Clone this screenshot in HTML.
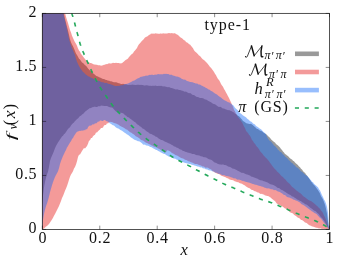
<!DOCTYPE html>
<html><head><meta charset="utf-8"><title>type-1</title>
<style>
html,body{margin:0;padding:0;background:#fff;}
body{width:346px;height:260px;position:relative;overflow:hidden;font-family:"Liberation Serif",serif;color:#111;}
</style></head><body>
<svg width="346" height="260" viewBox="0 0 346 260" style="position:absolute;left:0;top:0;will-change:transform" font-family="Liberation Serif" fill="#111">
<defs><clipPath id="c"><rect x="42.35" y="13.4" width="287.15" height="216.05"/></clipPath></defs>
<g clip-path="url(#c)">
<path d="M42.0,-5.0 L43.0,-5.0 L44.0,-5.0 L45.0,-5.0 L46.0,-5.0 L47.0,-5.0 L48.0,-5.0 L49.0,-5.0 L50.0,-5.0 L51.0,-5.0 L52.0,-5.0 L53.0,-5.0 L54.0,-5.0 L55.0,-5.0 L56.0,-5.0 L57.0,-5.0 L58.0,-5.0 L59.0,-5.0 L60.0,-5.0 L61.0,-4.5 L62.0,1.2 L63.0,8.1 L64.0,14.1 L65.0,18.8 L66.0,22.8 L67.0,26.8 L68.0,30.6 L69.0,34.8 L70.0,39.3 L71.0,42.3 L72.0,44.6 L73.0,46.3 L74.0,48.4 L75.0,50.9 L76.0,53.5 L77.0,54.9 L78.0,56.8 L79.0,58.7 L80.0,59.4 L81.0,61.0 L82.0,62.4 L83.0,62.9 L84.0,64.1 L85.0,65.3 L86.0,65.7 L87.0,67.1 L88.0,68.4 L89.0,69.6 L90.0,70.5 L91.0,71.3 L92.0,72.4 L93.0,73.2 L94.0,74.1 L95.0,74.8 L96.0,75.8 L97.0,76.3 L98.0,76.5 L99.0,77.2 L100.0,77.5 L101.0,78.0 L102.0,78.4 L103.0,79.0 L104.0,79.1 L105.0,79.5 L106.0,80.0 L107.0,80.1 L108.0,80.8 L109.0,80.6 L110.0,81.3 L111.0,81.3 L112.0,81.6 L113.0,82.0 L114.0,82.2 L115.0,82.3 L116.0,82.3 L117.0,82.5 L118.0,83.1 L119.0,83.2 L120.0,83.5 L121.0,83.9 L122.0,83.9 L123.0,83.7 L124.0,84.0 L125.0,84.4 L126.0,84.2 L127.0,84.8 L128.0,84.9 L129.0,84.9 L130.0,84.7 L131.0,85.0 L132.0,84.5 L133.0,84.7 L134.0,84.8 L135.0,85.0 L136.0,84.9 L137.0,84.7 L138.0,84.8 L139.0,84.8 L140.0,84.9 L141.0,84.8 L142.0,85.0 L143.0,85.1 L144.0,85.4 L145.0,85.5 L146.0,85.3 L147.0,85.3 L148.0,85.6 L149.0,85.7 L150.0,85.7 L151.0,85.8 L152.0,85.9 L153.0,85.4 L154.0,86.0 L155.0,85.6 L156.0,85.8 L157.0,86.1 L158.0,86.1 L159.0,85.7 L160.0,86.1 L161.0,85.8 L162.0,86.0 L163.0,86.4 L164.0,86.2 L165.0,86.5 L166.0,86.8 L167.0,87.0 L168.0,87.2 L169.0,87.0 L170.0,87.5 L171.0,87.9 L172.0,87.9 L173.0,88.5 L174.0,88.8 L175.0,89.3 L176.0,89.6 L177.0,89.3 L178.0,89.6 L179.0,90.1 L180.0,90.0 L181.0,90.3 L182.0,90.8 L183.0,90.8 L184.0,91.5 L185.0,91.8 L186.0,91.6 L187.0,92.2 L188.0,92.8 L189.0,93.3 L190.0,93.1 L191.0,93.5 L192.0,94.5 L193.0,95.0 L194.0,95.1 L195.0,95.8 L196.0,96.5 L197.0,97.0 L198.0,96.9 L199.0,97.6 L200.0,98.0 L201.0,98.1 L202.0,98.1 L203.0,98.3 L204.0,98.8 L205.0,99.6 L206.0,99.6 L207.0,100.1 L208.0,100.8 L209.0,101.2 L210.0,101.7 L211.0,102.2 L212.0,103.0 L213.0,103.7 L214.0,104.0 L215.0,104.3 L216.0,105.0 L217.0,105.7 L218.0,106.4 L219.0,106.9 L220.0,106.8 L221.0,107.0 L222.0,108.0 L223.0,108.4 L224.0,108.5 L225.0,109.1 L226.0,109.6 L227.0,109.8 L228.0,110.3 L229.0,110.0 L230.0,110.5 L231.0,110.9 L232.0,111.2 L233.0,112.2 L234.0,112.3 L235.0,113.7 L236.0,114.1 L237.0,115.0 L238.0,115.7 L239.0,116.2 L240.0,117.3 L241.0,118.5 L242.0,119.6 L243.0,121.1 L244.0,121.5 L245.0,122.2 L246.0,122.9 L247.0,123.4 L248.0,123.5 L249.0,124.0 L250.0,124.0 L251.0,123.8 L252.0,124.6 L253.0,125.3 L254.0,126.3 L255.0,127.1 L256.0,127.9 L257.0,128.9 L258.0,129.1 L259.0,129.9 L260.0,130.4 L261.0,131.1 L262.0,131.2 L263.0,132.3 L264.0,133.0 L265.0,133.4 L266.0,134.0 L267.0,135.1 L268.0,136.1 L269.0,137.1 L270.0,137.7 L271.0,139.3 L272.0,140.3 L273.0,141.0 L274.0,142.0 L275.0,142.4 L276.0,143.9 L277.0,144.7 L278.0,145.5 L279.0,146.6 L280.0,147.4 L281.0,148.9 L282.0,150.1 L283.0,151.6 L284.0,152.4 L285.0,154.0 L286.0,154.6 L287.0,155.4 L288.0,156.0 L289.0,157.2 L290.0,158.2 L291.0,158.9 L292.0,159.5 L293.0,160.8 L294.0,161.2 L295.0,162.6 L296.0,163.4 L297.0,164.2 L298.0,165.3 L299.0,166.4 L300.0,167.2 L301.0,168.8 L302.0,169.6 L303.0,171.0 L304.0,172.2 L305.0,172.8 L306.0,174.4 L307.0,175.4 L308.0,177.0 L309.0,178.3 L310.0,179.8 L311.0,181.6 L312.0,182.5 L313.0,184.1 L314.0,185.1 L315.0,186.0 L316.0,187.6 L317.0,188.7 L318.0,190.3 L319.0,191.7 L320.0,193.6 L321.0,196.3 L322.0,197.7 L323.0,199.5 L324.0,202.1 L325.0,204.8 L326.0,208.7 L327.0,213.8 L328.0,221.6 L329.0,229.5 L329.0,229.5 L328.0,227.8 L327.0,225.9 L326.0,223.9 L325.0,222.2 L324.0,220.8 L323.0,219.5 L322.0,218.1 L321.0,217.2 L320.0,216.1 L319.0,214.4 L318.0,213.6 L317.0,212.8 L316.0,211.5 L315.0,210.9 L314.0,210.4 L313.0,209.7 L312.0,208.7 L311.0,208.2 L310.0,207.5 L309.0,206.4 L308.0,205.7 L307.0,204.8 L306.0,204.5 L305.0,203.9 L304.0,203.2 L303.0,202.4 L302.0,202.3 L301.0,201.1 L300.0,201.1 L299.0,200.2 L298.0,199.7 L297.0,199.4 L296.0,198.4 L295.0,198.0 L294.0,197.3 L293.0,196.5 L292.0,196.5 L291.0,195.6 L290.0,194.7 L289.0,194.6 L288.0,193.7 L287.0,193.3 L286.0,192.6 L285.0,191.7 L284.0,191.2 L283.0,190.6 L282.0,190.1 L281.0,189.8 L280.0,188.7 L279.0,188.1 L278.0,188.0 L277.0,187.5 L276.0,186.4 L275.0,185.9 L274.0,185.3 L273.0,184.9 L272.0,184.4 L271.0,184.4 L270.0,183.9 L269.0,183.6 L268.0,182.8 L267.0,182.3 L266.0,182.1 L265.0,181.5 L264.0,181.3 L263.0,181.0 L262.0,180.3 L261.0,180.4 L260.0,180.0 L259.0,179.7 L258.0,179.0 L257.0,178.5 L256.0,178.2 L255.0,177.8 L254.0,177.5 L253.0,176.9 L252.0,176.7 L251.0,176.5 L250.0,175.6 L249.0,175.3 L248.0,174.8 L247.0,174.5 L246.0,174.3 L245.0,173.8 L244.0,173.2 L243.0,172.8 L242.0,172.9 L241.0,172.5 L240.0,171.9 L239.0,171.2 L238.0,170.9 L237.0,170.2 L236.0,169.8 L235.0,169.2 L234.0,168.7 L233.0,168.7 L232.0,168.3 L231.0,167.5 L230.0,167.0 L229.0,166.7 L228.0,166.5 L227.0,165.8 L226.0,165.3 L225.0,165.0 L224.0,165.1 L223.0,164.3 L222.0,164.8 L221.0,164.6 L220.0,164.5 L219.0,164.3 L218.0,164.1 L217.0,163.6 L216.0,162.8 L215.0,162.7 L214.0,161.9 L213.0,161.2 L212.0,160.3 L211.0,159.7 L210.0,159.6 L209.0,159.2 L208.0,158.7 L207.0,158.1 L206.0,157.6 L205.0,157.2 L204.0,157.3 L203.0,157.0 L202.0,156.2 L201.0,156.5 L200.0,155.8 L199.0,155.5 L198.0,155.3 L197.0,155.3 L196.0,155.0 L195.0,154.4 L194.0,154.0 L193.0,153.9 L192.0,153.9 L191.0,153.2 L190.0,153.2 L189.0,152.7 L188.0,152.7 L187.0,152.2 L186.0,151.9 L185.0,151.8 L184.0,150.9 L183.0,150.9 L182.0,150.3 L181.0,149.6 L180.0,149.5 L179.0,148.7 L178.0,148.0 L177.0,147.8 L176.0,147.2 L175.0,146.4 L174.0,146.5 L173.0,145.6 L172.0,145.0 L171.0,144.6 L170.0,143.8 L169.0,143.5 L168.0,143.1 L167.0,142.6 L166.0,142.1 L165.0,141.7 L164.0,140.9 L163.0,140.5 L162.0,140.0 L161.0,140.0 L160.0,139.3 L159.0,138.8 L158.0,138.1 L157.0,137.1 L156.0,136.7 L155.0,136.3 L154.0,135.3 L153.0,135.2 L152.0,134.2 L151.0,134.1 L150.0,133.7 L149.0,132.9 L148.0,132.0 L147.0,131.8 L146.0,130.7 L145.0,130.1 L144.0,129.1 L143.0,128.8 L142.0,128.0 L141.0,126.8 L140.0,126.5 L139.0,125.6 L138.0,124.7 L137.0,124.3 L136.0,123.0 L135.0,122.1 L134.0,121.7 L133.0,120.4 L132.0,120.3 L131.0,119.0 L130.0,118.8 L129.0,117.6 L128.0,117.2 L127.0,116.8 L126.0,115.6 L125.0,115.3 L124.0,114.0 L123.0,113.2 L122.0,113.0 L121.0,112.7 L120.0,113.0 L119.0,112.7 L118.0,112.8 L117.0,112.0 L116.0,111.6 L115.0,110.4 L114.0,109.4 L113.0,108.3 L112.0,107.4 L111.0,107.4 L110.0,107.2 L109.0,106.9 L108.0,106.6 L107.0,106.0 L106.0,106.0 L105.0,106.0 L104.0,106.0 L103.0,105.7 L102.0,105.7 L101.0,105.6 L100.0,106.4 L99.0,105.9 L98.0,106.4 L97.0,106.9 L96.0,107.0 L95.0,106.7 L94.0,106.8 L93.0,107.3 L92.0,107.2 L91.0,108.2 L90.0,108.1 L89.0,108.8 L88.0,109.6 L87.0,110.2 L86.0,111.0 L85.0,111.7 L84.0,112.9 L83.0,113.9 L82.0,114.5 L81.0,115.7 L80.0,116.0 L79.0,117.3 L78.0,118.5 L77.0,118.9 L76.0,120.3 L75.0,120.9 L74.0,122.5 L73.0,123.2 L72.0,124.2 L71.0,125.6 L70.0,127.2 L69.0,128.0 L68.0,129.1 L67.0,130.6 L66.0,132.1 L65.0,133.4 L64.0,134.2 L63.0,135.8 L62.0,136.6 L61.0,137.9 L60.0,139.4 L59.0,140.9 L58.0,142.5 L57.0,144.2 L56.0,146.1 L55.0,148.3 L54.0,150.9 L53.0,153.5 L52.0,155.8 L51.0,158.0 L50.0,160.9 L49.0,166.9 L48.0,171.8 L47.0,174.6 L46.0,177.7 L45.0,181.9 L44.0,187.6 L43.0,195.5 L42.0,205.0Z" fill="#000" fill-opacity="0.40"/>
<path d="M42.0,-5.0 L43.0,-5.0 L44.0,-5.0 L45.0,-5.0 L46.0,-5.0 L47.0,-5.0 L48.0,-5.0 L49.0,-5.0 L50.0,-5.0 L51.0,-5.0 L52.0,-5.0 L53.0,-5.0 L54.0,-5.0 L55.0,-5.0 L56.0,-5.0 L57.0,-5.0 L58.0,-5.0 L59.0,-5.0 L60.0,-5.0 L61.0,-4.7 L62.0,-4.3 L63.0,0.6 L64.0,7.1 L65.0,12.8 L66.0,16.8 L67.0,20.0 L68.0,23.1 L69.0,26.5 L70.0,29.9 L71.0,32.6 L72.0,35.8 L73.0,38.1 L74.0,40.2 L75.0,42.3 L76.0,43.7 L77.0,45.8 L78.0,48.4 L79.0,50.4 L80.0,51.7 L81.0,53.9 L82.0,55.0 L83.0,56.5 L84.0,57.8 L85.0,59.1 L86.0,60.2 L87.0,61.3 L88.0,61.8 L89.0,62.2 L90.0,62.9 L91.0,63.1 L92.0,63.5 L93.0,64.0 L94.0,64.4 L95.0,64.4 L96.0,64.7 L97.0,64.7 L98.0,65.3 L99.0,65.3 L100.0,65.3 L101.0,65.7 L102.0,65.4 L103.0,65.2 L104.0,64.7 L105.0,64.8 L106.0,64.1 L107.0,64.3 L108.0,63.7 L109.0,63.3 L110.0,63.5 L111.0,63.4 L112.0,63.3 L113.0,62.7 L114.0,63.0 L115.0,63.1 L116.0,62.7 L117.0,62.9 L118.0,63.1 L119.0,62.9 L120.0,63.4 L121.0,63.3 L122.0,63.2 L123.0,62.3 L124.0,61.5 L125.0,60.5 L126.0,59.8 L127.0,59.2 L128.0,58.5 L129.0,57.0 L130.0,55.9 L131.0,54.8 L132.0,54.0 L133.0,53.2 L134.0,51.6 L135.0,50.6 L136.0,49.2 L137.0,47.9 L138.0,45.8 L139.0,44.3 L140.0,43.3 L141.0,41.9 L142.0,40.7 L143.0,39.9 L144.0,38.8 L145.0,37.5 L146.0,37.1 L147.0,36.5 L148.0,35.9 L149.0,34.7 L150.0,34.7 L151.0,33.6 L152.0,33.7 L153.0,33.6 L154.0,33.8 L155.0,33.6 L156.0,33.3 L157.0,33.7 L158.0,33.5 L159.0,33.9 L160.0,33.4 L161.0,33.6 L162.0,33.8 L163.0,33.3 L164.0,33.6 L165.0,33.5 L166.0,33.5 L167.0,33.6 L168.0,33.2 L169.0,33.1 L170.0,33.2 L171.0,33.3 L172.0,33.1 L173.0,33.6 L174.0,33.2 L175.0,33.2 L176.0,33.9 L177.0,34.4 L178.0,34.9 L179.0,36.0 L180.0,37.1 L181.0,37.8 L182.0,38.3 L183.0,39.2 L184.0,40.3 L185.0,40.5 L186.0,42.0 L187.0,42.5 L188.0,43.1 L189.0,44.3 L190.0,44.6 L191.0,45.7 L192.0,47.0 L193.0,48.2 L194.0,50.3 L195.0,51.4 L196.0,52.2 L197.0,53.2 L198.0,54.2 L199.0,55.5 L200.0,56.1 L201.0,57.3 L202.0,58.5 L203.0,59.6 L204.0,60.0 L205.0,61.1 L206.0,62.1 L207.0,63.1 L208.0,64.2 L209.0,65.4 L210.0,66.9 L211.0,67.8 L212.0,69.2 L213.0,70.6 L214.0,72.0 L215.0,73.8 L216.0,75.3 L217.0,77.3 L218.0,78.9 L219.0,80.1 L220.0,81.8 L221.0,83.9 L222.0,85.4 L223.0,86.7 L224.0,88.9 L225.0,90.4 L226.0,92.5 L227.0,94.3 L228.0,96.2 L229.0,98.0 L230.0,100.2 L231.0,102.2 L232.0,104.7 L233.0,106.8 L234.0,109.7 L235.0,111.3 L236.0,113.4 L237.0,115.2 L238.0,117.0 L239.0,118.3 L240.0,119.5 L241.0,121.1 L242.0,122.3 L243.0,124.2 L244.0,126.4 L245.0,128.1 L246.0,130.7 L247.0,131.9 L248.0,133.0 L249.0,134.7 L250.0,135.8 L251.0,137.7 L252.0,139.9 L253.0,141.0 L254.0,142.9 L255.0,143.8 L256.0,145.4 L257.0,146.8 L258.0,147.8 L259.0,149.3 L260.0,150.9 L261.0,152.3 L262.0,153.3 L263.0,154.6 L264.0,156.1 L265.0,156.7 L266.0,158.0 L267.0,158.7 L268.0,160.0 L269.0,161.3 L270.0,162.7 L271.0,164.1 L272.0,165.5 L273.0,166.7 L274.0,168.0 L275.0,169.2 L276.0,170.0 L277.0,171.4 L278.0,172.3 L279.0,173.2 L280.0,174.2 L281.0,175.6 L282.0,176.5 L283.0,177.1 L284.0,178.5 L285.0,179.1 L286.0,180.3 L287.0,181.5 L288.0,182.6 L289.0,183.3 L290.0,184.2 L291.0,185.5 L292.0,186.7 L293.0,187.6 L294.0,188.2 L295.0,189.2 L296.0,190.1 L297.0,190.9 L298.0,191.5 L299.0,192.5 L300.0,192.9 L301.0,193.8 L302.0,194.7 L303.0,195.9 L304.0,196.8 L305.0,197.3 L306.0,198.3 L307.0,198.7 L308.0,199.7 L309.0,200.2 L310.0,200.7 L311.0,200.9 L312.0,201.8 L313.0,202.5 L314.0,203.3 L315.0,204.3 L316.0,205.0 L317.0,206.1 L318.0,206.8 L319.0,208.0 L320.0,208.8 L321.0,210.4 L322.0,211.5 L323.0,213.1 L324.0,215.6 L325.0,217.3 L326.0,219.7 L327.0,222.7 L328.0,226.1 L329.0,229.5 L329.0,229.3 L328.0,229.3 L327.0,229.2 L326.0,229.2 L325.0,229.1 L324.0,228.9 L323.0,228.7 L322.0,229.0 L321.0,228.6 L320.0,228.3 L319.0,228.6 L318.0,227.9 L317.0,227.7 L316.0,227.7 L315.0,227.2 L314.0,227.0 L313.0,226.4 L312.0,226.6 L311.0,225.8 L310.0,225.6 L309.0,225.0 L308.0,224.3 L307.0,223.3 L306.0,222.7 L305.0,222.5 L304.0,221.5 L303.0,220.8 L302.0,220.1 L301.0,219.9 L300.0,218.8 L299.0,218.0 L298.0,217.8 L297.0,216.9 L296.0,215.9 L295.0,215.4 L294.0,214.7 L293.0,213.6 L292.0,213.1 L291.0,212.8 L290.0,212.2 L289.0,211.2 L288.0,210.3 L287.0,209.4 L286.0,208.7 L285.0,208.5 L284.0,207.8 L283.0,206.7 L282.0,206.3 L281.0,206.0 L280.0,205.1 L279.0,205.0 L278.0,204.1 L277.0,203.8 L276.0,202.5 L275.0,201.1 L274.0,200.4 L273.0,199.4 L272.0,198.9 L271.0,197.8 L270.0,197.3 L269.0,196.5 L268.0,196.0 L267.0,196.0 L266.0,195.6 L265.0,195.5 L264.0,194.5 L263.0,194.6 L262.0,193.8 L261.0,193.9 L260.0,193.7 L259.0,192.8 L258.0,192.4 L257.0,192.2 L256.0,191.4 L255.0,191.3 L254.0,191.0 L253.0,190.0 L252.0,190.1 L251.0,189.5 L250.0,188.6 L249.0,188.0 L248.0,187.8 L247.0,187.0 L246.0,186.6 L245.0,185.5 L244.0,184.9 L243.0,184.4 L242.0,183.8 L241.0,183.6 L240.0,183.3 L239.0,182.8 L238.0,182.1 L237.0,182.2 L236.0,181.6 L235.0,181.5 L234.0,180.8 L233.0,180.3 L232.0,180.1 L231.0,179.9 L230.0,179.6 L229.0,179.2 L228.0,178.3 L227.0,178.3 L226.0,177.5 L225.0,176.9 L224.0,176.8 L223.0,176.2 L222.0,176.0 L221.0,175.6 L220.0,174.7 L219.0,174.1 L218.0,173.9 L217.0,173.5 L216.0,172.9 L215.0,172.5 L214.0,172.1 L213.0,171.2 L212.0,170.6 L211.0,169.3 L210.0,169.0 L209.0,168.4 L208.0,167.8 L207.0,167.6 L206.0,167.7 L205.0,167.4 L204.0,166.6 L203.0,166.4 L202.0,166.3 L201.0,165.5 L200.0,165.3 L199.0,164.9 L198.0,164.6 L197.0,164.1 L196.0,163.9 L195.0,163.9 L194.0,163.5 L193.0,162.9 L192.0,162.5 L191.0,162.3 L190.0,161.7 L189.0,161.3 L188.0,161.2 L187.0,160.3 L186.0,160.0 L185.0,159.8 L184.0,159.0 L183.0,158.4 L182.0,158.3 L181.0,157.9 L180.0,157.3 L179.0,156.8 L178.0,156.1 L177.0,155.5 L176.0,155.2 L175.0,154.8 L174.0,153.9 L173.0,153.5 L172.0,152.9 L171.0,152.3 L170.0,151.2 L169.0,150.9 L168.0,150.3 L167.0,150.6 L166.0,152.3 L165.0,152.4 L164.0,151.9 L163.0,150.9 L162.0,150.7 L161.0,149.9 L160.0,149.5 L159.0,148.7 L158.0,148.6 L157.0,147.8 L156.0,147.3 L155.0,146.8 L154.0,146.7 L153.0,145.9 L152.0,145.5 L151.0,145.3 L150.0,144.2 L149.0,144.2 L148.0,143.5 L147.0,142.9 L146.0,142.7 L145.0,142.0 L144.0,141.2 L143.0,140.6 L142.0,140.2 L141.0,139.9 L140.0,138.9 L139.0,137.9 L138.0,137.5 L137.0,136.7 L136.0,136.5 L135.0,135.5 L134.0,134.5 L133.0,134.1 L132.0,133.3 L131.0,132.5 L130.0,132.2 L129.0,131.3 L128.0,130.4 L127.0,129.6 L126.0,129.4 L125.0,128.6 L124.0,127.9 L123.0,127.3 L122.0,126.9 L121.0,126.3 L120.0,126.0 L119.0,125.0 L118.0,124.5 L117.0,123.9 L116.0,123.4 L115.0,123.2 L114.0,123.1 L113.0,122.5 L112.0,121.9 L111.0,122.0 L110.0,121.8 L109.0,122.2 L108.0,123.4 L107.0,123.2 L106.0,125.1 L105.0,125.0 L104.0,125.4 L103.0,127.4 L102.0,128.0 L101.0,128.1 L100.0,129.5 L99.0,130.2 L98.0,131.3 L97.0,132.5 L96.0,132.6 L95.0,134.7 L94.0,135.3 L93.0,136.3 L92.0,138.1 L91.0,138.1 L90.0,140.3 L89.0,140.8 L88.0,143.7 L87.0,146.1 L86.0,147.2 L85.0,148.6 L84.0,148.0 L83.0,149.6 L82.0,150.9 L81.0,152.7 L80.0,154.4 L79.0,154.8 L78.0,157.1 L77.0,161.3 L76.0,164.4 L75.0,167.0 L74.0,168.6 L73.0,171.3 L72.0,173.0 L71.0,174.6 L70.0,176.7 L69.0,179.7 L68.0,183.0 L67.0,186.0 L66.0,188.5 L65.0,190.7 L64.0,193.4 L63.0,195.9 L62.0,198.1 L61.0,200.9 L60.0,203.5 L59.0,205.9 L58.0,208.1 L57.0,210.1 L56.0,212.0 L55.0,213.9 L54.0,215.8 L53.0,217.8 L52.0,219.6 L51.0,221.1 L50.0,222.6 L49.0,223.9 L48.0,225.0 L47.0,225.9 L46.0,226.6 L45.0,227.4 L44.0,228.4 L43.0,229.0 L42.0,229.0Z" fill="#e50f0c" fill-opacity="0.42"/>
<path d="M42.0,-5.0 L43.0,-5.0 L44.0,-5.0 L45.0,-5.0 L46.0,-5.0 L47.0,-5.0 L48.0,-5.0 L49.0,-5.0 L50.0,-5.0 L51.0,-5.0 L52.0,-5.0 L53.0,-5.0 L54.0,-5.0 L55.0,-5.0 L56.0,-5.0 L57.0,-5.0 L58.0,-5.0 L59.0,-5.0 L60.0,-5.0 L61.0,-2.0 L62.0,4.2 L63.0,11.0 L64.0,16.4 L65.0,20.6 L66.0,24.7 L67.0,29.1 L68.0,33.8 L69.0,38.8 L70.0,42.5 L71.0,45.2 L72.0,48.3 L73.0,50.2 L74.0,52.8 L75.0,54.9 L76.0,58.8 L77.0,61.7 L78.0,63.9 L79.0,65.9 L80.0,67.8 L81.0,69.3 L82.0,70.6 L83.0,72.0 L84.0,72.6 L85.0,73.7 L86.0,74.7 L87.0,75.2 L88.0,76.2 L89.0,76.5 L90.0,76.9 L91.0,77.8 L92.0,78.0 L93.0,78.5 L94.0,79.0 L95.0,79.6 L96.0,79.6 L97.0,80.5 L98.0,80.6 L99.0,80.9 L100.0,81.2 L101.0,82.0 L102.0,82.3 L103.0,82.3 L104.0,82.4 L105.0,83.2 L106.0,82.8 L107.0,83.1 L108.0,83.7 L109.0,84.1 L110.0,84.1 L111.0,84.5 L112.0,84.8 L113.0,85.2 L114.0,85.6 L115.0,85.9 L116.0,86.0 L117.0,86.1 L118.0,85.8 L119.0,86.1 L120.0,85.6 L121.0,85.2 L122.0,85.3 L123.0,85.1 L124.0,84.5 L125.0,84.0 L126.0,84.1 L127.0,83.8 L128.0,83.5 L129.0,83.0 L130.0,82.5 L131.0,81.9 L132.0,81.4 L133.0,80.8 L134.0,80.8 L135.0,80.1 L136.0,79.4 L137.0,78.7 L138.0,78.3 L139.0,78.1 L140.0,77.3 L141.0,76.8 L142.0,76.7 L143.0,76.3 L144.0,76.3 L145.0,75.9 L146.0,75.6 L147.0,75.7 L148.0,75.5 L149.0,74.9 L150.0,74.8 L151.0,74.9 L152.0,74.5 L153.0,74.9 L154.0,74.9 L155.0,74.5 L156.0,74.8 L157.0,74.4 L158.0,74.1 L159.0,74.3 L160.0,74.2 L161.0,74.2 L162.0,74.3 L163.0,74.2 L164.0,73.8 L165.0,73.9 L166.0,73.7 L167.0,74.1 L168.0,74.1 L169.0,74.2 L170.0,74.9 L171.0,74.6 L172.0,74.9 L173.0,75.6 L174.0,75.8 L175.0,75.9 L176.0,76.5 L177.0,76.4 L178.0,76.7 L179.0,77.3 L180.0,77.4 L181.0,78.3 L182.0,78.9 L183.0,79.2 L184.0,79.7 L185.0,79.5 L186.0,80.2 L187.0,81.0 L188.0,81.3 L189.0,81.5 L190.0,81.9 L191.0,81.9 L192.0,82.2 L193.0,82.3 L194.0,83.1 L195.0,82.9 L196.0,83.7 L197.0,83.3 L198.0,84.2 L199.0,84.4 L200.0,84.4 L201.0,85.3 L202.0,85.8 L203.0,86.3 L204.0,86.8 L205.0,87.3 L206.0,87.9 L207.0,88.2 L208.0,89.2 L209.0,89.4 L210.0,89.9 L211.0,91.0 L212.0,91.2 L213.0,91.9 L214.0,92.8 L215.0,93.6 L216.0,93.9 L217.0,94.4 L218.0,95.5 L219.0,96.2 L220.0,97.0 L221.0,97.4 L222.0,98.5 L223.0,99.2 L224.0,100.0 L225.0,100.6 L226.0,101.1 L227.0,101.6 L228.0,102.3 L229.0,102.3 L230.0,103.1 L231.0,103.8 L232.0,104.6 L233.0,105.1 L234.0,106.3 L235.0,107.8 L236.0,108.8 L237.0,109.4 L238.0,110.6 L239.0,112.0 L240.0,113.1 L241.0,113.8 L242.0,114.5 L243.0,115.4 L244.0,115.9 L245.0,116.7 L246.0,117.3 L247.0,118.4 L248.0,119.2 L249.0,119.9 L250.0,121.2 L251.0,121.5 L252.0,122.3 L253.0,123.4 L254.0,124.1 L255.0,124.6 L256.0,125.9 L257.0,126.5 L258.0,127.3 L259.0,127.9 L260.0,128.8 L261.0,129.3 L262.0,130.3 L263.0,131.4 L264.0,132.3 L265.0,133.3 L266.0,134.6 L267.0,136.7 L268.0,138.6 L269.0,139.9 L270.0,141.0 L271.0,141.6 L272.0,142.7 L273.0,143.9 L274.0,145.4 L275.0,146.1 L276.0,147.2 L277.0,148.3 L278.0,149.7 L279.0,150.5 L280.0,151.7 L281.0,152.1 L282.0,153.0 L283.0,154.5 L284.0,155.0 L285.0,156.4 L286.0,157.3 L287.0,158.1 L288.0,159.1 L289.0,160.4 L290.0,160.8 L291.0,162.4 L292.0,162.7 L293.0,163.7 L294.0,164.9 L295.0,165.4 L296.0,167.0 L297.0,167.5 L298.0,168.1 L299.0,169.1 L300.0,170.2 L301.0,171.4 L302.0,171.8 L303.0,172.8 L304.0,173.7 L305.0,174.6 L306.0,175.4 L307.0,175.8 L308.0,176.7 L309.0,178.1 L310.0,179.3 L311.0,180.2 L312.0,181.8 L313.0,182.3 L314.0,183.8 L315.0,184.8 L316.0,185.5 L317.0,186.6 L318.0,187.3 L319.0,189.2 L320.0,190.6 L321.0,192.7 L322.0,195.2 L323.0,197.1 L324.0,199.4 L325.0,201.1 L326.0,203.6 L327.0,207.1 L328.0,212.7 L329.0,228.0 L329.3,229.5 L329.0,229.5 L328.0,228.0 L327.0,226.6 L326.0,225.2 L325.0,223.8 L324.0,222.8 L323.0,221.3 L322.0,219.9 L321.0,218.6 L320.0,217.9 L319.0,216.8 L318.0,215.7 L317.0,214.4 L316.0,213.8 L315.0,213.2 L314.0,212.7 L313.0,211.7 L312.0,211.5 L311.0,210.4 L310.0,209.9 L309.0,209.1 L308.0,208.4 L307.0,207.5 L306.0,207.1 L305.0,206.1 L304.0,205.6 L303.0,204.8 L302.0,204.4 L301.0,203.7 L300.0,202.5 L299.0,202.1 L298.0,201.5 L297.0,200.8 L296.0,200.7 L295.0,200.0 L294.0,199.7 L293.0,199.5 L292.0,198.5 L291.0,198.4 L290.0,197.7 L289.0,197.4 L288.0,197.2 L287.0,196.9 L286.0,196.1 L285.0,195.1 L284.0,195.1 L283.0,194.3 L282.0,193.2 L281.0,193.0 L280.0,192.1 L279.0,191.8 L278.0,191.5 L277.0,190.9 L276.0,190.2 L275.0,190.1 L274.0,190.3 L273.0,189.4 L272.0,189.2 L271.0,189.3 L270.0,188.8 L269.0,188.4 L268.0,188.2 L267.0,188.4 L266.0,188.1 L265.0,187.8 L264.0,187.4 L263.0,186.8 L262.0,186.7 L261.0,186.2 L260.0,186.0 L259.0,185.8 L258.0,185.5 L257.0,185.1 L256.0,184.8 L255.0,184.8 L254.0,184.3 L253.0,183.9 L252.0,183.7 L251.0,183.3 L250.0,183.1 L249.0,182.6 L248.0,182.4 L247.0,181.9 L246.0,181.9 L245.0,181.5 L244.0,181.3 L243.0,180.7 L242.0,180.9 L241.0,180.0 L240.0,180.1 L239.0,179.4 L238.0,179.7 L237.0,179.4 L236.0,178.8 L235.0,178.3 L234.0,178.6 L233.0,178.1 L232.0,177.6 L231.0,177.2 L230.0,176.7 L229.0,176.5 L228.0,176.3 L227.0,176.0 L226.0,175.9 L225.0,175.5 L224.0,175.0 L223.0,175.2 L222.0,175.0 L221.0,174.5 L220.0,173.7 L219.0,174.0 L218.0,173.6 L217.0,172.8 L216.0,172.8 L215.0,172.4 L214.0,171.5 L213.0,171.6 L212.0,171.2 L211.0,170.5 L210.0,170.5 L209.0,170.2 L208.0,169.9 L207.0,169.3 L206.0,169.4 L205.0,168.8 L204.0,168.2 L203.0,168.4 L202.0,167.5 L201.0,167.3 L200.0,167.4 L199.0,166.5 L198.0,166.7 L197.0,166.2 L196.0,165.9 L195.0,165.6 L194.0,165.6 L193.0,164.8 L192.0,165.0 L191.0,164.2 L190.0,164.0 L189.0,164.1 L188.0,163.4 L187.0,163.5 L186.0,162.9 L185.0,163.1 L184.0,162.5 L183.0,162.2 L182.0,161.9 L181.0,161.6 L180.0,160.7 L179.0,160.4 L178.0,159.9 L177.0,159.8 L176.0,159.2 L175.0,158.6 L174.0,158.7 L173.0,158.0 L172.0,157.9 L171.0,157.0 L170.0,156.8 L169.0,156.7 L168.0,156.1 L167.0,155.6 L166.0,154.9 L165.0,154.1 L164.0,154.0 L163.0,153.6 L162.0,153.0 L161.0,152.4 L160.0,152.0 L159.0,151.2 L158.0,150.9 L157.0,150.0 L156.0,150.1 L155.0,149.3 L154.0,148.8 L153.0,148.3 L152.0,147.5 L151.0,146.9 L150.0,146.9 L149.0,145.9 L148.0,145.8 L147.0,145.4 L146.0,145.5 L145.0,144.6 L144.0,144.8 L143.0,144.4 L142.0,143.3 L141.0,142.4 L140.0,141.7 L139.0,141.3 L138.0,141.2 L137.0,140.8 L136.0,140.3 L135.0,139.9 L134.0,139.5 L133.0,138.7 L132.0,138.0 L131.0,137.6 L130.0,136.6 L129.0,135.7 L128.0,134.8 L127.0,134.4 L126.0,133.6 L125.0,132.9 L124.0,132.3 L123.0,131.5 L122.0,130.8 L121.0,130.2 L120.0,129.8 L119.0,128.7 L118.0,128.4 L117.0,127.9 L116.0,127.5 L115.0,126.6 L114.0,125.6 L113.0,125.3 L112.0,124.7 L111.0,123.8 L110.0,123.4 L109.0,122.4 L108.0,121.8 L107.0,121.2 L106.0,121.1 L105.0,120.0 L104.0,120.1 L103.0,121.0 L102.0,120.9 L101.0,120.4 L100.0,120.6 L99.0,121.8 L98.0,121.6 L97.0,122.7 L96.0,123.5 L95.0,123.2 L94.0,124.4 L93.0,124.3 L92.0,124.7 L91.0,125.8 L90.0,125.5 L89.0,126.1 L88.0,127.2 L87.0,129.5 L86.0,129.1 L85.0,130.6 L84.0,129.8 L83.0,131.1 L82.0,130.3 L81.0,131.0 L80.0,130.7 L79.0,131.0 L78.0,131.5 L77.0,131.7 L76.0,133.1 L75.0,134.6 L74.0,136.0 L73.0,138.0 L72.0,139.1 L71.0,141.3 L70.0,142.6 L69.0,144.2 L68.0,145.9 L67.0,147.6 L66.0,150.1 L65.0,151.7 L64.0,154.1 L63.0,155.9 L62.0,158.5 L61.0,161.0 L60.0,164.0 L59.0,168.3 L58.0,171.2 L57.0,173.2 L56.0,175.0 L55.0,177.0 L54.0,179.5 L53.0,182.3 L52.0,185.3 L51.0,188.7 L50.0,192.3 L49.0,196.4 L48.0,200.3 L47.0,203.4 L46.0,206.3 L45.0,209.8 L44.0,213.9 L43.0,220.1 L42.0,229.0Z" fill="#0a64fa" fill-opacity="0.42"/>
<path d="M71.8,13.0 L72.2,14.7 L72.8,16.4 L73.2,18.1 L73.8,19.9 L74.2,21.7 L74.8,23.5 L75.2,25.3 L75.8,27.1 L76.2,28.9 L76.8,30.9 L77.2,32.9 L77.8,34.9 L78.2,36.9 L78.8,38.9 L79.2,40.8 L79.8,42.6 L80.2,44.2 L80.8,45.6 L81.2,47.0 L81.8,48.4 L82.2,49.6 L82.8,50.9 L83.2,52.1 L83.8,53.3 L84.2,54.6 L84.8,55.8 L85.2,56.9 L85.8,58.1 L86.2,59.2 L86.8,60.4 L87.2,61.5 L87.8,62.6 L88.2,63.7 L88.8,64.9 L89.2,66.0 L89.8,67.1 L90.2,68.2 L90.8,69.3 L91.2,70.3 L91.8,71.4 L92.2,72.4 L92.8,73.5 L93.2,74.5 L93.8,75.5 L94.2,76.5 L94.8,77.5 L95.2,78.5 L95.8,79.5 L96.2,80.4 L96.8,81.3 L97.2,82.3 L97.8,83.2 L98.2,84.1 L98.8,85.0 L99.2,85.9 L99.8,86.7 L100.2,87.6 L100.8,88.4 L101.2,89.2 L101.8,90.0 L102.2,90.7 L102.8,91.5 L103.2,92.2 L103.8,92.9 L104.2,93.6 L104.8,94.3 L105.2,94.9 L105.8,95.6 L106.2,96.3 L106.8,97.0 L107.2,97.7 L107.8,98.5 L108.2,99.2 L108.8,100.0 L109.2,100.7 L109.8,101.4 L110.2,102.2 L110.8,102.9 L111.2,103.6 L111.8,104.3 L112.2,105.0 L112.8,105.6 L113.2,106.3 L113.8,106.9 L114.2,107.5 L114.8,108.1 L115.2,108.7 L115.8,109.3 L116.2,109.8 L116.8,110.4 L117.2,111.0 L117.8,111.5 L118.2,112.1 L118.8,112.6 L119.2,113.2 L119.8,113.7 L120.2,114.3 L120.8,114.8 L121.2,115.3 L121.8,115.8 L122.2,116.4 L122.8,116.9 L123.2,117.4 L123.8,117.9 L124.2,118.4 L124.8,118.9 L125.2,119.4 L125.8,120.0 L126.2,120.5 L126.8,121.0 L127.2,121.5 L127.8,122.0 L128.2,122.5 L128.8,123.0 L129.2,123.5 L129.8,123.9 L130.2,124.4 L130.8,124.9 L131.2,125.4 L131.8,125.9 L132.2,126.4 L132.8,126.9 L133.2,127.3 L133.8,127.8 L134.2,128.3 L134.8,128.8 L135.2,129.3 L135.8,129.7 L136.2,130.2 L136.8,130.7 L137.2,131.1 L137.8,131.6 L138.2,132.1 L138.8,132.5 L139.2,133.0 L139.8,133.4 L140.2,133.8 L140.8,134.3 L141.2,134.7 L141.8,135.1 L142.2,135.5 L142.8,135.9 L143.2,136.3 L143.8,136.7 L144.2,137.1 L144.8,137.5 L145.2,137.9 L145.8,138.3 L146.2,138.6 L146.8,139.0 L147.2,139.4 L147.8,139.8 L148.2,140.1 L148.8,140.5 L149.2,140.8 L149.8,141.2 L150.2,141.5 L150.8,141.9 L151.2,142.2 L151.8,142.6 L152.2,142.9 L152.8,143.2 L153.2,143.6 L153.8,143.9 L154.2,144.2 L154.8,144.6 L155.2,144.9 L155.8,145.3 L156.2,145.6 L156.8,146.0 L157.2,146.3 L157.8,146.7 L158.2,147.0 L158.8,147.3 L159.2,147.7 L159.8,148.0 L160.2,148.4 L160.8,148.7 L161.2,149.1 L161.8,149.4 L162.2,149.8 L162.8,150.1 L163.2,150.5 L163.8,150.8 L164.2,151.2 L164.8,151.5 L165.2,151.9 L165.8,152.2 L166.2,152.6 L166.8,153.0 L167.2,153.3 L167.8,153.7 L168.2,154.1 L168.8,154.4 L169.2,154.8 L169.8,155.1 L170.2,155.5 L170.8,155.8 L171.2,156.1 L171.8,156.5 L172.2,156.8 L172.8,157.1 L173.2,157.4 L173.8,157.7 L174.2,158.0 L174.8,158.3 L175.2,158.5 L175.8,158.8 L176.2,159.1 L176.8,159.4 L177.2,159.6 L177.8,159.9 L178.2,160.2 L178.8,160.5 L179.2,160.7 L179.8,161.0 L180.2,161.3 L180.8,161.5 L181.2,161.8 L181.8,162.1 L182.2,162.3 L182.8,162.6 L183.2,162.8 L183.8,163.1 L184.2,163.3 L184.8,163.6 L185.2,163.9 L185.8,164.1 L186.2,164.4 L186.8,164.6 L187.2,164.9 L187.8,165.1 L188.2,165.4 L188.8,165.7 L189.2,165.9 L189.8,166.2 L190.2,166.4 L190.8,166.7 L191.2,167.0 L191.8,167.2 L192.2,167.5 L192.8,167.8 L193.2,168.1 L193.8,168.3 L194.2,168.6 L194.8,168.9 L195.2,169.1 L195.8,169.4 L196.2,169.7 L196.8,169.9 L197.2,170.2 L197.8,170.5 L198.2,170.8 L198.8,171.0 L199.2,171.3 L199.8,171.6 L200.2,171.8 L200.8,172.1 L201.2,172.4 L201.8,172.7 L202.2,172.9 L202.8,173.2 L203.2,173.5 L203.8,173.7 L204.2,174.0 L204.8,174.3 L205.2,174.5 L205.8,174.8 L206.2,175.1 L206.8,175.3 L207.2,175.6 L207.8,175.8 L208.2,176.1 L208.8,176.3 L209.2,176.6 L209.8,176.8 L210.2,177.1 L210.8,177.3 L211.2,177.5 L211.8,177.8 L212.2,178.0 L212.8,178.3 L213.2,178.5 L213.8,178.8 L214.2,179.0 L214.8,179.2 L215.2,179.5 L215.8,179.7 L216.2,180.0 L216.8,180.2 L217.2,180.5 L217.8,180.7 L218.2,181.0 L218.8,181.3 L219.2,181.5 L219.8,181.8 L220.2,182.1 L220.8,182.3 L221.2,182.6 L221.8,182.9 L222.2,183.1 L222.8,183.4 L223.2,183.6 L223.8,183.9 L224.2,184.1 L224.8,184.3 L225.2,184.6 L225.8,184.8 L226.2,185.0 L226.8,185.2 L227.2,185.4 L227.8,185.6 L228.2,185.9 L228.8,186.1 L229.2,186.2 L229.8,186.4 L230.2,186.6 L230.8,186.8 L231.2,187.0 L231.8,187.2 L232.2,187.4 L232.8,187.6 L233.2,187.8 L233.8,188.0 L234.2,188.2 L234.8,188.4 L235.2,188.7 L235.8,188.9 L236.2,189.1 L236.8,189.3 L237.2,189.6 L237.8,189.8 L238.2,190.0 L238.8,190.2 L239.2,190.5 L239.8,190.7 L240.2,190.9 L240.8,191.1 L241.2,191.3 L241.8,191.6 L242.2,191.8 L242.8,192.0 L243.2,192.2 L243.8,192.4 L244.2,192.6 L244.8,192.8 L245.2,193.0 L245.8,193.2 L246.2,193.4 L246.8,193.6 L247.2,193.8 L247.8,194.0 L248.2,194.2 L248.8,194.4 L249.2,194.6 L249.8,194.8 L250.2,195.0 L250.8,195.2 L251.2,195.4 L251.8,195.6 L252.2,195.8 L252.8,196.0 L253.2,196.2 L253.8,196.4 L254.2,196.6 L254.8,196.8 L255.2,197.0 L255.8,197.2 L256.2,197.4 L256.8,197.6 L257.2,197.8 L257.8,198.0 L258.2,198.2 L258.8,198.4 L259.2,198.6 L259.8,198.8 L260.2,199.0 L260.8,199.2 L261.2,199.4 L261.8,199.6 L262.2,199.8 L262.8,199.9 L263.2,200.1 L263.8,200.3 L264.2,200.4 L264.8,200.6 L265.2,200.7 L265.8,200.9 L266.2,201.0 L266.8,201.2 L267.2,201.3 L267.8,201.5 L268.2,201.6 L268.8,201.8 L269.2,202.0 L269.8,202.1 L270.2,202.3 L270.8,202.5 L271.2,202.7 L271.8,202.8 L272.2,203.0 L272.8,203.2 L273.2,203.4 L273.8,203.6 L274.2,203.8 L274.8,204.0 L275.2,204.3 L275.8,204.5 L276.2,204.7 L276.8,204.9 L277.2,205.1 L277.8,205.3 L278.2,205.6 L278.8,205.8 L279.2,206.0 L279.8,206.2 L280.2,206.4 L280.8,206.6 L281.2,206.8 L281.8,207.0 L282.2,207.2 L282.8,207.5 L283.2,207.7 L283.8,207.9 L284.2,208.1 L284.8,208.3 L285.2,208.5 L285.8,208.7 L286.2,208.9 L286.8,209.1 L287.2,209.3 L287.8,209.6 L288.2,209.8 L288.8,210.0 L289.2,210.2 L289.8,210.4 L290.2,210.6 L290.8,210.8 L291.2,211.0 L291.8,211.3 L292.2,211.5 L292.8,211.7 L293.2,211.9 L293.8,212.1 L294.2,212.3 L294.8,212.5 L295.2,212.8 L295.8,213.0 L296.2,213.2 L296.8,213.4 L297.2,213.6 L297.8,213.8 L298.2,214.0 L298.8,214.2 L299.2,214.4 L299.8,214.6 L300.2,214.8 L300.8,215.0 L301.2,215.2 L301.8,215.4 L302.2,215.6 L302.8,215.8 L303.2,216.0 L303.8,216.2 L304.2,216.4 L304.8,216.6 L305.2,216.8 L305.8,217.0 L306.2,217.2 L306.8,217.4 L307.2,217.6 L307.8,217.8 L308.2,218.0 L308.8,218.2 L309.2,218.4 L309.8,218.6 L310.2,218.8 L310.8,219.0 L311.2,219.2 L311.8,219.4 L312.2,219.6 L312.8,219.8 L313.2,220.0 L313.8,220.2 L314.2,220.4 L314.8,220.6 L315.2,220.8 L315.8,221.0 L316.2,221.3 L316.8,221.5 L317.2,221.7 L317.8,221.9 L318.2,222.2 L318.8,222.4 L319.2,222.6 L319.8,222.9 L320.2,223.1 L320.8,223.3 L321.2,223.6 L321.8,223.9 L322.2,224.1 L322.8,224.4 L323.2,224.7 L323.8,224.9 L324.2,225.2 L324.8,225.5 L325.2,225.8 L325.8,226.2 L326.2,226.5 L326.8,226.9 L327.2,227.3 L327.8,227.7 L328.2,228.1 L328.8,228.5 L329.2,229.0 L329.3,229.0" fill="none" stroke="#22a85a" stroke-width="1.6" stroke-dasharray="4.2 5.75" stroke-dashoffset="0.15"/>
</g>
<rect x="42.35" y="13.4" width="287.15" height="216.05" fill="none" stroke="#000" stroke-opacity="0.8" stroke-width="0.85"/>
<path d="M42.35,229.45 v-3.8 M42.35,13.4 v3.8 M99.78,229.45 v-3.8 M99.78,13.4 v3.8 M157.21,229.45 v-3.8 M157.21,13.4 v3.8 M214.64,229.45 v-3.8 M214.64,13.4 v3.8 M272.07,229.45 v-3.8 M272.07,13.4 v3.8 M329.50,229.45 v-3.8 M329.50,13.4 v3.8 M42.35,229.45 h3.8 M329.5,229.45 h-3.8 M42.35,175.44 h3.8 M329.5,175.44 h-3.8 M42.35,121.42 h3.8 M329.5,121.42 h-3.8 M42.35,67.41 h3.8 M329.5,67.41 h-3.8 M42.35,13.40 h3.8 M329.5,13.40 h-3.8" stroke="#000" stroke-opacity="0.75" stroke-width="0.6" fill="none"/>
<path d="M295,53.8 H318.9" stroke="#999999" stroke-width="4.6"/>
<path d="M295,72 H318.9" stroke="#f39a9a" stroke-width="4.6"/>
<path d="M295,90.1 H318.9" stroke="#98befd" stroke-width="4.6"/>
<path d="M294.9,108 H318.9" stroke="#22a85a" stroke-width="1.6" stroke-dasharray="4.1 5.75"/>
<text x="36.6" y="233.1" font-size="16" text-anchor="end" >0</text>
<text x="37.300000000000004" y="179.1" font-size="16" text-anchor="end" letter-spacing="0.7">0.5</text>
<text x="36.6" y="125.1" font-size="16" text-anchor="end" >1</text>
<text x="37.300000000000004" y="71.1" font-size="16" text-anchor="end" letter-spacing="0.7">1.5</text>
<text x="36.6" y="17.1" font-size="16" text-anchor="end" >2</text>
<text x="42.4" y="242.6" font-size="16" text-anchor="middle" >0</text>
<text x="100.1" y="242.6" font-size="16" text-anchor="middle" letter-spacing="0.7">0.2</text>
<text x="157.6" y="242.6" font-size="16" text-anchor="middle" letter-spacing="0.7">0.4</text>
<text x="215.0" y="242.6" font-size="16" text-anchor="middle" letter-spacing="0.7">0.6</text>
<text x="272.4" y="242.6" font-size="16" text-anchor="middle" letter-spacing="0.7">0.8</text>
<text x="329.5" y="242.6" font-size="16" text-anchor="middle" >1</text>
<text x="180.6" y="255.0" font-size="16.5" font-style="italic" text-anchor="start" >x</text>
<g transform="translate(14.7,139.8) rotate(-90)"><g transform="translate(-0.4,0) scale(1.55,0.84)"><text x="0" y="0" font-size="16" font-style="italic" text-anchor="start" >f</text></g><text x="10.6" y="2.6" font-size="11.5" font-style="italic" text-anchor="start" >v</text><text x="14.6" y="0" font-size="16" text-anchor="start" >(</text><text x="21.6" y="0" font-size="17.5" font-style="italic" text-anchor="start" >x</text><text x="30.6" y="0" font-size="16" text-anchor="start" >)</text></g>
<text x="204.4" y="30" font-size="16" text-anchor="start" letter-spacing="0.95">type-1</text>
<g transform="translate(244.9,45.2)" fill="none" stroke="#111" stroke-linecap="round" stroke-linejoin="round"><path d="M0.5,11.3 C0.7,12.4 1.9,12.5 2.5,11.0 L6.6,0.8" stroke-width="0.8"/><circle cx="0.7" cy="11.5" r="0.55" fill="#111" stroke="none"/><path d="M6.6,0.8 L9.3,10.6" stroke-width="1.5"/><path d="M9.3,10.6 L17.0,0.8" stroke-width="0.75"/><path d="M17.0,0.8 C16.2,4 15.8,8 16.3,10.6 C16.5,11.7 17.2,12 17.9,11.4" stroke-width="1.4"/></g>
<text x="264.6" y="59.4" font-size="12" font-style="italic" text-anchor="start" >π</text><text x="271.6" y="59.6" font-size="12" text-anchor="start" >′</text><text x="275.8" y="59.4" font-size="12" font-style="italic" text-anchor="start" >π</text><text x="282.8" y="59.6" font-size="12" text-anchor="start" >′</text>
<g transform="translate(248.9,63.4)" fill="none" stroke="#111" stroke-linecap="round" stroke-linejoin="round"><path d="M0.5,11.3 C0.7,12.4 1.9,12.5 2.5,11.0 L6.6,0.8" stroke-width="0.8"/><circle cx="0.7" cy="11.5" r="0.55" fill="#111" stroke="none"/><path d="M6.6,0.8 L9.3,10.6" stroke-width="1.5"/><path d="M9.3,10.6 L17.0,0.8" stroke-width="0.75"/><path d="M17.0,0.8 C16.2,4 15.8,8 16.3,10.6 C16.5,11.7 17.2,12 17.9,11.4" stroke-width="1.4"/></g>
<text x="268.9" y="77.6" font-size="12" font-style="italic" text-anchor="start" >π</text><text x="275.9" y="77.8" font-size="12" text-anchor="start" >′</text><text x="280.6" y="77.6" font-size="12" font-style="italic" text-anchor="start" >π</text>
<text x="254.6" y="93.6" font-size="16.5" font-style="italic" text-anchor="start" >h</text><text x="265.9" y="85.7" font-size="12.5" font-style="italic" text-anchor="start" >R</text>
<text x="264.8" y="97.9" font-size="12" font-style="italic" text-anchor="start" >π</text><text x="271.8" y="98.1" font-size="12" text-anchor="start" >′</text><text x="276.5" y="97.9" font-size="12" font-style="italic" text-anchor="start" >π</text><text x="283.6" y="98.1" font-size="12" text-anchor="start" >′</text>
<text x="238.3" y="111.8" font-size="16" font-style="italic" text-anchor="start" >π</text><text x="254.3" y="112.3" font-size="16" text-anchor="start" letter-spacing="0.8">(GS)</text>
</svg>
</body></html>
